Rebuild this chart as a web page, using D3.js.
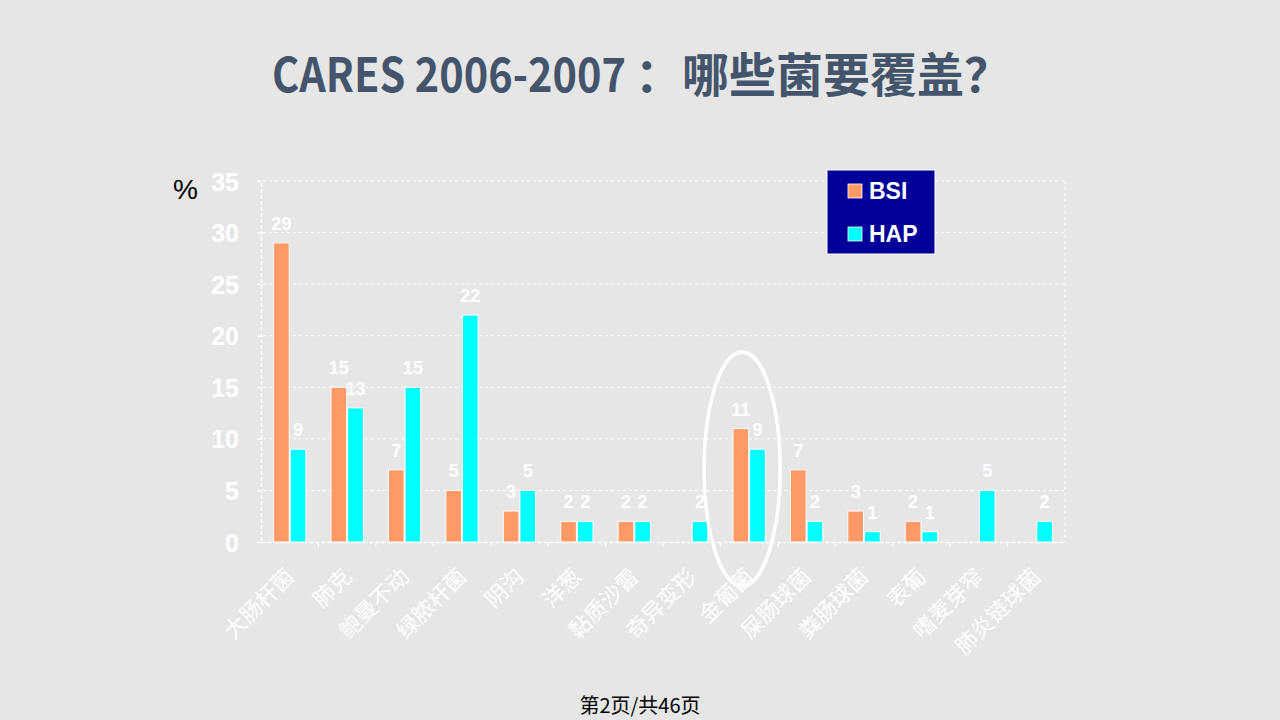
<!DOCTYPE html>
<html><head><meta charset="utf-8">
<script src="https://cdn.jsdelivr.net/npm/d3@7"></script>
<style>body{margin:0;background:#e6e6e6;}svg{display:block;}</style>
</head><body>
<svg id="c" width="1280" height="720"></svg>
<script>
const categories = ["大肠杆菌","肺克","鲍曼不动","绿脓杆菌","阴沟","洋葱","黏质沙雷","奇异变形","金葡菌","屎肠球菌","粪肠球菌","表葡","嗜麦芽窄","肺炎链球菌"];
const seriesNames = ["BSI","HAP"];
const bsiValues = [29,15,7,5,3,2,2,null,11,7,3,2,null,null];
const hapValues = [9,13,15,22,5,2,2,2,9,2,1,1,5,2];
const yTicks = [0,5,10,15,20,25,30,35];
const colors = {BSI:"#ff9966", HAP:"#00ffff"};

(function(){
const svg = d3.select("#c");
svg.append("rect").attr("width",1280).attr("height",720).attr("fill","#e6e6e6");

const pL=261, pR=1065, pT=181, pB=542;
const x = d3.scaleBand().domain(categories).range([pL,pR]).paddingInner(0.42).paddingOuter(0.21);
const xs = d3.scaleBand().domain(seriesNames).range([0,x.bandwidth()]).padding(0);
const y = d3.scaleLinear().domain([0,35]).range([pB,pT]);

// title (condensed Latin part + CJK part)
const latin = svg.append("text")
  .attr("font-family","'Noto Sans CJK SC', sans-serif").attr("font-weight","bold")
  .attr("font-size",47).attr("fill","#44546a").text("CARES 2006-2007");
const w = latin.node().getComputedTextLength();
latin.attr("transform",`translate(272,92) scale(${Math.min(1,354/w)},1)`);
svg.append("text").attr("x",635).attr("y",92)
  .attr("font-family","'Noto Sans CJK SC', sans-serif").attr("font-weight","bold")
  .attr("font-size",47).attr("fill","#44546a").text("：哪些菌要覆盖？");

// gridlines
svg.append("g").selectAll("line").data(yTicks.filter(d=>d>0)).join("line")
  .attr("x1",pL-4).attr("x2",pR).attr("y1",d=>y(d)).attr("y2",d=>y(d))
  .attr("stroke","#ffffff").attr("stroke-width",1).attr("stroke-dasharray","3,3");
svg.append("line").attr("x1",pR).attr("x2",pR).attr("y1",pT).attr("y2",pB)
  .attr("stroke","#ffffff").attr("stroke-width",1).attr("stroke-dasharray","3,3");

// y axis
const yAxis = svg.append("g").attr("transform",`translate(${pL},0)`)
  .call(d3.axisLeft(y).tickValues(yTicks).tickSize(4).tickPadding(18));
yAxis.select(".domain").attr("stroke","#ffffff").attr("stroke-width",1.5).attr("stroke-dasharray","4,2");
yAxis.selectAll(".tick line").attr("stroke","#ffffff");
yAxis.selectAll(".tick text").attr("fill","#ffffff").attr("font-family","Arial, 'Liberation Sans', sans-serif")
  .attr("font-weight","bold").attr("font-size",25).attr("dy","0.36em");

// x axis
const xAxis = svg.append("g").attr("transform",`translate(0,${pB})`)
  .call(d3.axisBottom(x).tickSize(0).tickFormat(""));
xAxis.select(".domain").attr("stroke","#ffffff").attr("stroke-width",1.5).attr("stroke-dasharray","4,2");
svg.append("g").selectAll("line").data(categories.slice(1)).join("line")
  .attr("x1",d=>x(d)-x.step()*x.paddingInner()/2).attr("x2",d=>x(d)-x.step()*x.paddingInner()/2)
  .attr("y1",pB).attr("y2",pB+5).attr("stroke","#ffffff").attr("stroke-width",1);

// bars
const rows = categories.map((c,i)=>({c, vals:[{s:"BSI",v:bsiValues[i]},{s:"HAP",v:hapValues[i]}]}));
const g = svg.append("g").selectAll("g").data(rows).join("g").attr("transform",d=>`translate(${x(d.c)},0)`);
const items = g.selectAll("g").data(d=>d.vals.filter(v=>v.v!==null)).join("g");
items.append("rect")
  .attr("x",d=>xs(d.s)+0.5).attr("width",xs.bandwidth()-1)
  .attr("y",d=>y(d.v)).attr("height",d=>y(0)-y(d.v))
  .attr("fill",d=>colors[d.s]).attr("stroke","#ffffff").attr("stroke-width",1);
items.append("text")
  .attr("x",d=>xs(d.s)+xs.bandwidth()/2).attr("y",d=>y(d.v)-13)
  .attr("text-anchor","middle").attr("fill","#ffffff")
  .attr("font-family","Arial, 'Liberation Sans', sans-serif").attr("font-weight","bold").attr("font-size",18)
  .text(d=>d.v);

// x labels
svg.append("g").selectAll("text").data(categories).join("text")
  .attr("transform",d=>`translate(${x(d)+x.bandwidth()/2-5},${pB+25}) rotate(-45)`)
  .attr("text-anchor","end").attr("dy","0.7em")
  .attr("fill","#ffffff").attr("font-family","'Noto Sans CJK SC', sans-serif").attr("font-size",22)
  .text(d=>d);

// % label
svg.append("text").attr("x",173).attr("y",199).attr("font-family","Arial, 'Liberation Sans', sans-serif")
  .attr("font-size",28).attr("fill","#000000").text("%");

// legend
const lg = svg.append("g").attr("transform","translate(827,170)");
lg.append("rect").attr("width",108).attr("height",84).attr("fill","#000099").attr("stroke","#ffffff").attr("stroke-width",1);
seriesNames.forEach((s,i)=>{
  lg.append("rect").attr("x",21).attr("y",14+i*43).attr("width",14).attr("height",14)
    .attr("fill",colors[s]).attr("stroke","#ffffff").attr("stroke-width",0.8);
  lg.append("text").attr("x",42).attr("y",29+i*43).attr("fill","#ffffff")
    .attr("font-family","Arial, 'Liberation Sans', sans-serif").attr("font-weight","bold").attr("font-size",23).text(s);
});

// ellipse highlight
svg.append("ellipse").attr("cx",x("金葡菌")+x.bandwidth()/2-7).attr("cy",469).attr("rx",38).attr("ry",117)
  .attr("fill","none").attr("stroke","#ffffff").attr("stroke-width",3.5);

// footer
svg.append("text").attr("x",640).attr("y",713).attr("text-anchor","middle")
  .attr("font-family","'Noto Sans CJK SC', sans-serif").attr("font-size",20).attr("fill","#000000").text("第2页/共46页");
})();
</script>
</body></html>
